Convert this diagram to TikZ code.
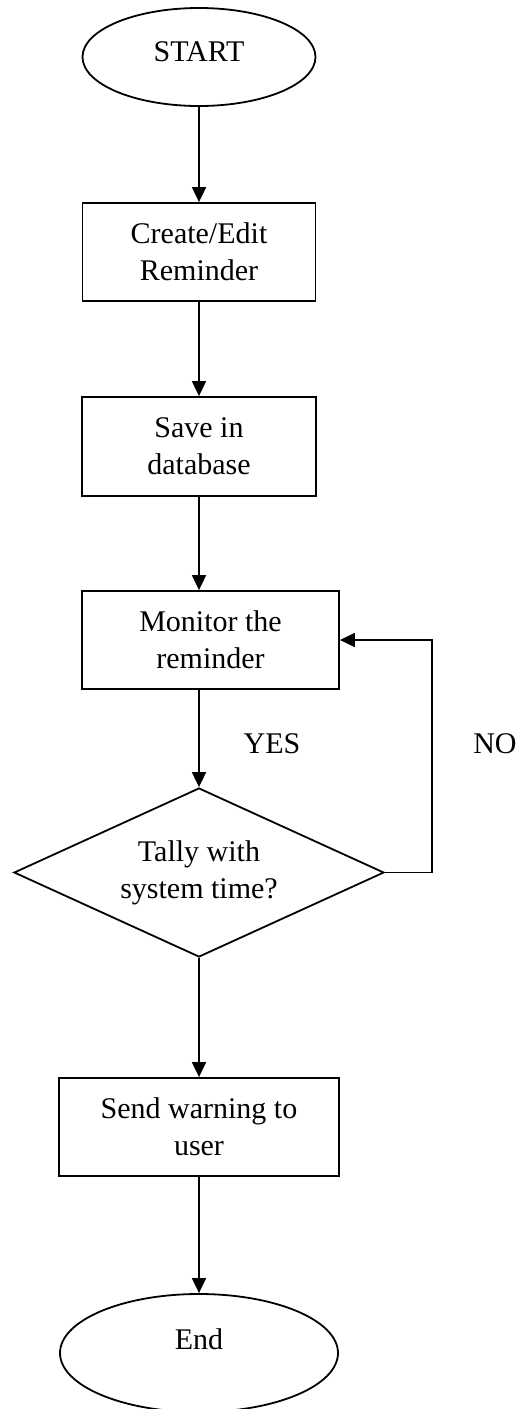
\documentclass[tikz,border=0pt]{standalone}
\usepackage{fontspec}
\setmainfont{Liberation Serif}
\usetikzlibrary{shapes.geometric,arrows.meta}
\begin{document}
\begin{tikzpicture}[x=0.5pt,y=-0.5pt, line width=0.9pt,
  every node/.style={font=\fontsize{15}{18.5}\selectfont, align=center},
  proc/.style={draw, rectangle, inner sep=0pt},
  term/.style={draw, ellipse, inner sep=0pt},
  dec/.style={draw, diamond, aspect=2.2, inner sep=0pt, minimum width=185pt, minimum height=84.5pt},
  arr/.style={-{Triangle[length=7.5pt,width=7pt]}}
]
\useasboundingbox (0,0) rectangle (526,1409);
\node[term, minimum width=116.5pt, minimum height=49pt] (start) at (199,57) {};
\node (starttxt) at (199,52) {START};
\node[proc, minimum width=116.5pt, minimum height=49pt] (create) at (199,252) {Create/Edit\\Reminder};
\node[proc, minimum width=117pt, minimum height=49.5pt] (save) at (199,446.5) {Save in\\database};
\node[proc, minimum width=128.5pt, minimum height=49pt] (mon) at (210.5,640) {Monitor the\\reminder};
\node[dec] (dec) at (199,872.5) {Tally with\\system time?};
\node[proc, minimum width=140pt, minimum height=49pt] (send) at (199,1127) {Send warning to\\user};
\node[term, minimum width=139pt, minimum height=59pt] (end) at (199,1353) {};
\node (endtxt) at (199,1339) {End};
\node (yes) at (272,744) {YES};
\node (no) at (495,744) {NO};
\coordinate (loop) at (432,640);
\draw[arr] (start.south) -- (create.north);
\draw[arr] (create.south) -- (save.north);
\draw[arr] (save.south) -- (save.south |- mon.north);
\draw[arr] (mon.south -| dec.north) -- (dec.north);
\draw[arr] (dec.south) -- (send.north);
\draw[arr] (send.south) -- (end.north);
\draw[arr] (dec.east) -| (loop) |- (mon.east);
\end{tikzpicture}
\end{document}
